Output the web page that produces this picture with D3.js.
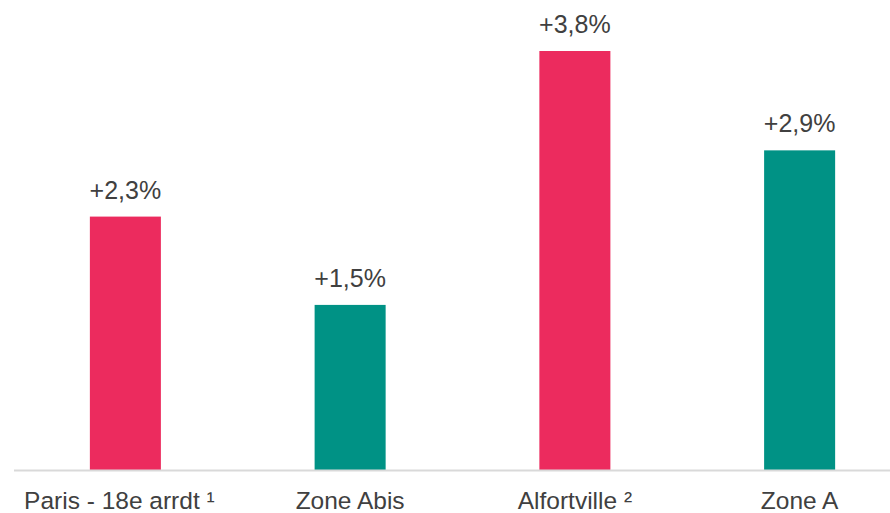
<!DOCTYPE html>
<html>
<head>
<meta charset="utf-8">
<script src="https://cdn.jsdelivr.net/npm/d3@7/dist/d3.min.js"></script>
<style>
  html, body { margin: 0; padding: 0; background: #fff; }
  svg { display: block; }
  text { font-family: "Liberation Sans", Arial, sans-serif; fill: #404040; }
</style>
</head>
<body>
<svg id="chart" width="890" height="513"></svg>
<script>
// Évolution des loyers par territoire
const categories = ["Paris - 18e arrdt \u00b9", "Zone Abis", "Alfortville \u00b2", "Zone A"];
const values = [2.3, 1.5, 3.8, 2.9];
const valueLabels = ["+2,3%", "+1,5%", "+3,8%", "+2,9%"];
const barColors = ["#ec2b5e", "#009285", "#ec2b5e", "#009285"];

const svg = d3.select("#chart");
const W = 890, H = 513;
const baseY = 470.5;

const x = d3.scaleBand()
  .domain(categories)
  .range([13, 912])
  .paddingInner(0.684)
  .paddingOuter(0.342);

const y = d3.scaleLinear()
  .domain([0, 3.8])
  .range([baseY, 51]);

// bars
svg.append("g")
  .selectAll("rect")
  .data(categories)
  .join("rect")
  .attr("x", d => x(d))
  .attr("width", x.bandwidth())
  .attr("y", (d, i) => y(values[i]))
  .attr("height", (d, i) => y(0) - y(values[i]))
  .attr("fill", (d, i) => barColors[i]);

// category axis
const axis = svg.append("g")
  .attr("transform", `translate(0,${baseY})`)
  .call(d3.axisBottom(x).tickSize(0).tickPadding(0));
axis.select(".domain").remove();
axis.append("line")
  .attr("x1", 14).attr("x2", W)
  .attr("y1", 0).attr("y2", 0)
  .attr("stroke", "#d9d9d9")
  .attr("stroke-width", 2);
axis.selectAll(".tick text")
  .attr("y", 38)
  .attr("dy", 0)
  .style("font-size", "24.5px")
  .style("font-family", "'Liberation Sans', Arial, sans-serif")
  .attr("fill", "#404040");
// the first label sits slightly left of its bar
axis.selectAll(".tick text").filter((d, i) => i === 0).attr("x", -6);

// value labels
svg.append("g")
  .selectAll("text")
  .data(categories)
  .join("text")
  .attr("x", d => x(d) + x.bandwidth() / 2)
  .attr("y", (d, i) => y(values[i]) - 18)
  .attr("text-anchor", "middle")
  .style("font-size", "25px")
  .text((d, i) => valueLabels[i]);
</script>
</body>
</html>
